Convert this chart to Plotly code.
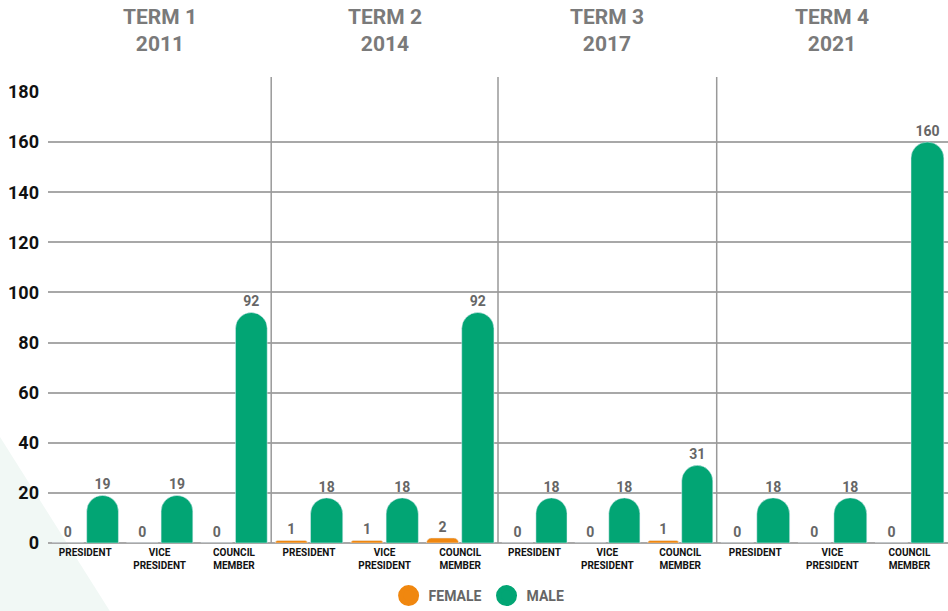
import plotly.graph_objects as go
from plotly.subplots import make_subplots

terms = ["TERM 1", "TERM 2", "TERM 3", "TERM 4"]
years = ["2011", "2014", "2017", "2021"]
positions = ["PRESIDENT", "VICE<br>PRESIDENT", "COUNCIL<br>MEMBER"]
female = [[0, 0, 0], [1, 1, 2], [0, 0, 1], [0, 0, 0]]
male = [[19, 19, 92], [18, 18, 92], [18, 18, 31], [18, 18, 160]]
y_ticks = [0, 20, 40, 60, 80, 100, 120, 140, 160, 180]

GREEN = "#02a574"
ORANGE = "#f0870f"
LABEL_GRAY = "#666666"
TITLE_GRAY = "#7a7a7a"
GRID = "#a8a8a8"
FONT = "Roboto"

fig = make_subplots(rows=1, cols=4, shared_yaxes=True, horizontal_spacing=0)

for i in range(4):
    fig.add_trace(go.Bar(
        x=positions, y=female[i], name="FEMALE", marker=dict(color=ORANGE, cornerradius=16),
        text=female[i], textposition="outside", cliponaxis=False,
        textfont=dict(family=FONT, size=14, color=LABEL_GRAY, weight="bold"),
        showlegend=False, hoverinfo="skip"), row=1, col=i + 1)
    fig.add_trace(go.Bar(
        x=positions, y=male[i], name="MALE", marker=dict(color=GREEN, cornerradius=16),
        text=male[i], textposition="outside", cliponaxis=False,
        textfont=dict(family=FONT, size=14, color=LABEL_GRAY, weight="bold"),
        showlegend=False, hoverinfo="skip"), row=1, col=i + 1)

# legend entries with round symbols
for nm, col in [("FEMALE", ORANGE), ("MALE", GREEN)]:
    fig.add_trace(go.Scatter(
        x=[None], y=[None], mode="markers", name=nm,
        marker=dict(color=col, size=16, symbol="circle", line=dict(color=col, width=5)),
        showlegend=True), row=1, col=1)

bounds = [0.0, 0.248, 0.5, 0.743, 1.0]
for i in range(4):
    xa = "xaxis" if i == 0 else f"xaxis{i + 1}"
    fig.layout[xa].update(
        domain=[bounds[i], bounds[i + 1]], range=[-0.5, 2.5],
        showgrid=False, zeroline=False, showline=False, ticks="",
        tickfont=dict(family=FONT, size=10, color="#111111", weight="bold"),
        ticklabelstandoff=2, fixedrange=True)
    xd = f"x{'' if i == 0 else i + 1} domain"
    fig.add_annotation(
        text=f"{terms[i]}<br>{years[i]}", xref=xd, yref="paper", x=0.5, y=1 + (92 - 30) / 451,
        yanchor="middle", showarrow=False,
        font=dict(family=FONT, size=21, color=TITLE_GRAY, weight="bold"))

for i in range(4):
    ya = "yaxis" if i == 0 else f"yaxis{i + 1}"
    fig.layout[ya].update(
        range=[0, 180], tickvals=y_ticks, showgrid=True, gridcolor=GRID, gridwidth=2,
        zeroline=True, zerolinecolor=GRID, zerolinewidth=2, showline=False,
        tickfont=dict(family=FONT, size=18, color="#111111", weight="bold"),
        ticklabelstandoff=8, fixedrange=True)

# separators between terms
for b in bounds[1:4]:
    fig.add_shape(type="line", xref="paper", yref="paper", x0=b, x1=b, y0=0, y1=1.033,
                  line=dict(color="#999999", width=1.5))

# faint background triangle
fig.add_shape(type="path", xref="paper", yref="paper", layer="below",
              path="M -0.1,0.235 L -0.0533,0.235 L 0.089,-0.215 L -0.1,-0.215 Z",
              fillcolor="#f1f8f5", line=dict(width=0))

fig.update_layout(
    width=948, height=611,
    margin=dict(l=48, r=0, t=92, b=68, autoexpand=False),
    paper_bgcolor="white", plot_bgcolor="rgba(0,0,0,0)",
    barmode="group", bargap=0.067, bargroupgap=0.086,
    font=dict(family=FONT),
    legend=dict(orientation="h", x=0.479, xanchor="center", y=-0.1175, yanchor="middle",
                font=dict(family=FONT, size=14, color=LABEL_GRAY, weight="bold"),
                itemsizing="trace", bgcolor="rgba(0,0,0,0)"),
)

fig.write_html("out.html", config={"displayModeBar": False},
               post_script="document.body.style.margin='0px';document.body.style.overflow='hidden';")
